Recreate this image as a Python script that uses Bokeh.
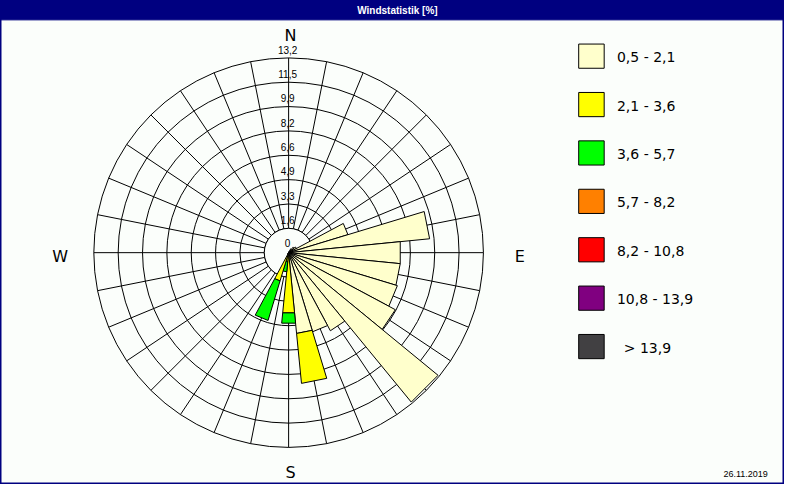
import math
from bokeh.plotting import figure
from bokeh.models import Range1d
from bokeh.embed import file_html
from bokeh.resources import INLINE
from bokeh.core.properties import value

# ---------------- data ----------------
title_text = "Windstatistik [%]"
date_text = "26.11.2019"
compass_labels = ["N", "E", "S", "W"]

n_dirs = 32  # 11.25 degree sectors, bearing 0 = N, clockwise
ring_step = 1.65
ring_labels = ["1,6", "3,3", "4,9", "6,6", "8,2", "9,9", "11,5", "13,2"]
center_label = "0"

speed_classes = ["0,5 - 2,1", "2,1 - 3,6", "3,6 - 5,7", "5,7 - 8,2",
                 "8,2 - 10,8", "10,8 - 13,9", "> 13,9"]
class_colors = ["#FFFFCC", "#FFFF00", "#00FF00", "#FF8000",
                "#FF0000", "#800080", "#414042"]

# per sector (N, NzO, NNO, ... clockwise), percent
freq_05_21 = [0.0, 0.0, 0.1, 0.3, 0.5, 0.6, 4.2, 9.6, 7.6, 7.6, 7.7, 8.2, 13.1, 6.0, 5.6, 5.5,
              0.2, 0.1, 0.1, 0.1, 0.0, 0.0, 0.0, 0.0, 0.0, 0.0, 0.0, 0.0, 0.0, 0.0, 0.0, 0.0]
freq_21_36 = [0.0, 0.0, 0.0, 0.0, 0.0, 0.0, 0.0, 0.0, 0.0, 0.0, 0.0, 0.0, 0.0, 0.0, 0.0, 3.4,
              3.9, 0.5, 1.9, 0.0, 0.0, 0.0, 0.0, 0.0, 0.0, 0.0, 0.0, 0.0, 0.0, 0.0, 0.0, 0.0]
freq_36_57 = [0.0, 0.0, 0.0, 0.0, 0.0, 0.0, 0.0, 0.0, 0.0, 0.0, 0.0, 0.0, 0.0, 0.0, 0.0, 0.0,
              0.7, 0.7, 2.8, 0.0, 0.0, 0.0, 0.0, 0.0, 0.0, 0.0, 0.0, 0.0, 0.0, 0.0, 0.0, 0.0]
freq_57_82 = [0.0, 0.0, 0.0, 0.0, 0.0, 0.0, 0.0, 0.0, 0.0, 0.0, 0.0, 0.0, 0.0, 0.0, 0.0, 0.0,
              0.0, 0.0, 0.0, 0.0, 0.0, 0.0, 0.0, 0.0, 0.0, 0.0, 0.0, 0.0, 0.0, 0.0, 0.0, 0.0]
freq_82_108 = [0.0, 0.0, 0.0, 0.0, 0.0, 0.0, 0.0, 0.0, 0.0, 0.0, 0.0, 0.0, 0.0, 0.0, 0.0, 0.0,
               0.0, 0.0, 0.0, 0.0, 0.0, 0.0, 0.0, 0.0, 0.0, 0.0, 0.0, 0.0, 0.0, 0.0, 0.0, 0.0]
freq_108_139 = [0.0, 0.0, 0.0, 0.0, 0.0, 0.0, 0.0, 0.0, 0.0, 0.0, 0.0, 0.0, 0.0, 0.0, 0.0, 0.0,
                0.0, 0.0, 0.0, 0.0, 0.0, 0.0, 0.0, 0.0, 0.0, 0.0, 0.0, 0.0, 0.0, 0.0, 0.0, 0.0]
freq_gt_139 = [0.0, 0.0, 0.0, 0.0, 0.0, 0.0, 0.0, 0.0, 0.0, 0.0, 0.0, 0.0, 0.0, 0.0, 0.0, 0.0,
               0.0, 0.0, 0.0, 0.0, 0.0, 0.0, 0.0, 0.0, 0.0, 0.0, 0.0, 0.0, 0.0, 0.0, 0.0, 0.0]
series = [freq_05_21, freq_21_36, freq_36_57, freq_57_82,
          freq_82_108, freq_108_139, freq_gt_139]

# ---------------- layout ----------------
W, H = 784, 484
KX, KY = W / 800.0, H / 500.0
BG = "#FBFEFB"
NAVY = "#000080"


def X(rx):
    return rx * KX


def Y(ry):
    return H - ry * KY


cx, cy = X(294), Y(260.5)
ring_max = ring_step * len(ring_labels)
S = 200 * (KX + KY) / 2 / ring_max  # px per percent
half = math.pi / n_dirs


def pol(r, ang):
    return cx + r * S * math.sin(ang), cy + r * S * math.cos(ang)


p = figure(width=W, height=H, x_range=Range1d(0, W), y_range=Range1d(0, H),
           toolbar_location=None, output_backend="svg", min_border=0,
           x_axis_type=None, y_axis_type=None)
p.grid.visible = False
p.background_fill_color = BG
p.border_fill_color = BG
p.outline_line_color = NAVY
p.outline_line_width = 2

# rings
ring_vals = [ring_step * (k + 1) for k in range(len(ring_labels))]
p.circle(x=[cx] * len(ring_vals), y=[cy] * len(ring_vals),
         radius=[v * S for v in ring_vals], fill_color=None,
         line_color="black", line_width=1)

# spokes
x0s, y0s, x1s, y1s = [], [], [], []
for i in range(n_dirs):
    a = 2 * math.pi * i / n_dirs
    ax, ay = pol(ring_vals[0], a)
    bx, by = pol(ring_max, a)
    x0s.append(ax); y0s.append(ay); x1s.append(bx); y1s.append(by)
p.segment(x0=x0s, y0=y0s, x1=x1s, y1=y1s, line_color="black", line_width=1)

# inner hole
p.circle(x=[cx], y=[cy], radius=[ring_vals[0] * S], fill_color=BG,
         line_color="black", line_width=1)

# stacked wedges
pxs, pys, pcol = [], [], []
for i in range(n_dirs):
    a = 2 * math.pi * i / n_dirs
    a1, a2 = a - half, a + half
    cum = 0.0
    for c, ser in enumerate(series):
        v = ser[i]
        if v <= 0:
            continue
        r0, r1 = cum, cum + v
        o1, o2 = pol(r1, a1), pol(r1, a2)
        if r0 <= 0:
            pts = [(cx, cy), o1, o2]
        else:
            i1, i2 = pol(r0, a1), pol(r0, a2)
            pts = [i1, o1, o2, i2]
        pxs.append([q[0] for q in pts])
        pys.append([q[1] for q in pts])
        pcol.append(class_colors[c])
        cum = r1
p.patches(xs=pxs, ys=pys, fill_color=pcol, line_color="black", line_width=1)

# ring labels along N spoke
lab_x = [cx - 1] * (len(ring_labels) + 1)
lab_y = [cy + 9.5 * KY] + [cy + v * S + 8.4 * KY for v in ring_vals]
p.text(x=lab_x, y=lab_y, text=[center_label] + ring_labels,
       text_font=value("Liberation Sans"), text_font_size="10px",
       text_align="center", text_baseline="middle", text_color="black")

# compass labels
comp_pos = {"N": (296, 36), "E": (530, 264), "S": (296, 488), "W": (61, 264)}
p.text(x=[X(comp_pos[k][0]) for k in compass_labels],
       y=[Y(comp_pos[k][1]) for k in compass_labels],
       text=compass_labels, text_font=value("DejaVu Sans"),
       text_font_size="16px", text_align="center", text_baseline="middle",
       text_color="black")

# legend
lg_left, lg_right, lg_top0, lg_h, lg_step = 590, 616, 45, 25, 50
p.quad(left=[X(lg_left)] * len(speed_classes),
       right=[X(lg_right)] * len(speed_classes),
       top=[Y(lg_top0 + k * lg_step) for k in range(len(speed_classes))],
       bottom=[Y(lg_top0 + lg_h + k * lg_step) for k in range(len(speed_classes))],
       fill_color=class_colors, line_color="black", line_width=1)
p.text(x=[X(629 if not s.startswith(">") else 636) for s in speed_classes],
       y=[Y(lg_top0 + lg_h / 2 + 1 + k * lg_step) for k in range(len(speed_classes))],
       text=speed_classes, text_font=value("DejaVu Sans"), text_font_size="14px",
       text_align="left", text_baseline="middle", text_color="black")

# title bar
p.quad(left=[0], right=[W], top=[H], bottom=[Y(20)], fill_color=NAVY,
       line_color=NAVY)
p.text(x=[X(405)], y=[Y(10)], text=[title_text],
       text_font=value("Liberation Sans"), text_font_style="bold",
       text_font_size="10px", text_align="center", text_baseline="middle",
       text_color="white")

# date
p.text(x=[X(783)], y=[Y(489)], text=[date_text],
       text_font=value("Liberation Sans"), text_font_size="9px",
       text_align="right", text_baseline="middle", text_color="black")

open("out.html", "w").write(file_html(p, INLINE))
